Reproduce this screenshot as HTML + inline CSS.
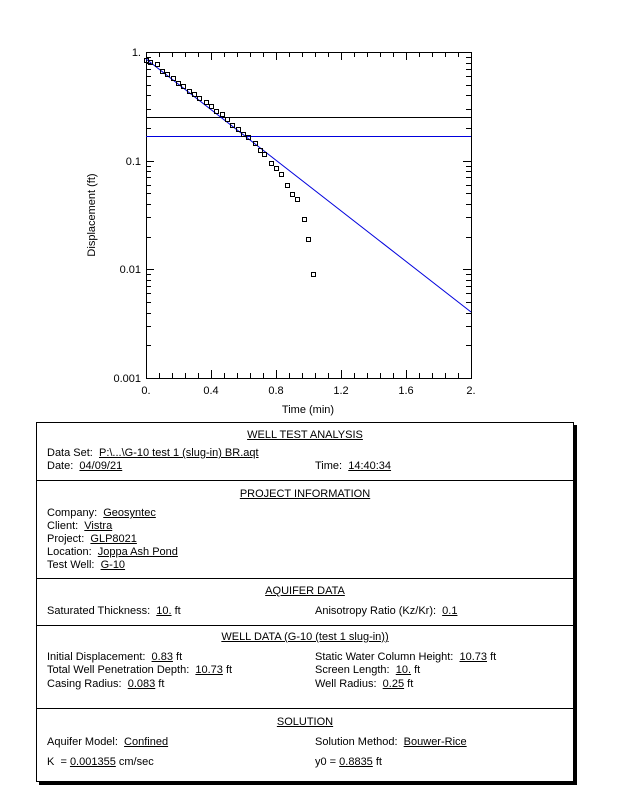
<!DOCTYPE html>
<html><head><meta charset="utf-8"><style>
body{margin:0;background:#fff;width:618px;height:800px;position:relative;overflow:hidden;font-family:"Liberation Sans",Arial,sans-serif;}
.t{position:absolute;font-size:11px;line-height:13px;white-space:nowrap;color:#000;}
.c{left:36px;width:538px;text-align:center;}
u{text-decoration:underline;}
</style></head><body>
<svg width="618" height="420" style="position:absolute;left:0;top:0" font-family="Liberation Sans, Arial, sans-serif" font-size="11">
<g id="ticks" stroke="#000" stroke-width="1" shape-rendering="crispEdges"></g>
<rect x="146.5" y="52.5" width="325" height="326" fill="none" stroke="#000"/>
<line x1="146" y1="117.5" x2="471" y2="117.5" stroke="#000"/>
<line x1="146" y1="136.5" x2="471" y2="136.5" stroke="#0000dd"/>
<line x1="146" y1="59" x2="471" y2="312" stroke="#0000dd"/>
<g id="pts" fill="none" stroke="#000" stroke-width="1"></g>
<g text-anchor="end">
<text x="141" y="56">1.</text><text x="141" y="165">0.1</text><text x="141" y="273">0.01</text><text x="141" y="382">0.001</text>
</g>
<g text-anchor="middle">
<text x="146" y="394">0.</text><text x="211" y="394">0.4</text><text x="276" y="394">0.8</text><text x="341" y="394">1.2</text><text x="406" y="394">1.6</text><text x="471" y="394">2.</text>
<text x="308" y="413">Time (min)</text>
<text transform="translate(95,215) rotate(-90)">Displacement (ft)</text>
</g>
</svg>
<div style="position:absolute;left:39px;top:425px;width:538px;height:360px;background:#000"></div>
<div style="position:absolute;left:36px;top:422px;width:536px;height:358px;border:1px solid #000;background:#fff"></div>
<div style="position:absolute;left:36px;top:480px;width:538px;border-top:1px solid #000"></div>
<div style="position:absolute;left:36px;top:578px;width:538px;border-top:1px solid #000"></div>
<div style="position:absolute;left:36px;top:625px;width:538px;border-top:1px solid #000"></div>
<div style="position:absolute;left:36px;top:708px;width:538px;border-top:1px solid #000"></div>

<div class="t c" style="top:429px"><u>WELL TEST ANALYSIS</u></div>
<div class="t" style="left:47px;top:447px">Data Set:&nbsp; <u>P:\...\G-10 test 1 (slug-in) BR.aqt</u></div>
<div class="t" style="left:47px;top:460px">Date:&nbsp; <u>04/09/21</u></div>
<div class="t" style="left:315px;top:460px">Time:&nbsp; <u>14:40:34</u></div>

<div class="t c" style="top:488px"><u>PROJECT INFORMATION</u></div>
<div class="t" style="left:47px;top:507px">Company:&nbsp; <u>Geosyntec</u></div>
<div class="t" style="left:47px;top:520px">Client:&nbsp; <u>Vistra</u></div>
<div class="t" style="left:47px;top:533px">Project:&nbsp; <u>GLP8021</u></div>
<div class="t" style="left:47px;top:546px">Location:&nbsp; <u>Joppa Ash Pond</u></div>
<div class="t" style="left:47px;top:559px">Test Well:&nbsp; <u>G-10</u></div>

<div class="t c" style="top:585px"><u>AQUIFER DATA</u></div>
<div class="t" style="left:47px;top:605px">Saturated Thickness:&nbsp; <u>10.</u> ft</div>
<div class="t" style="left:315px;top:605px">Anisotropy Ratio (Kz/Kr):&nbsp; <u>0.1</u></div>

<div class="t c" style="top:631px"><u>WELL DATA (G-10 (test 1 slug-in))</u></div>
<div class="t" style="left:47px;top:651px">Initial Displacement:&nbsp; <u>0.83</u> ft</div>
<div class="t" style="left:315px;top:651px">Static Water Column Height:&nbsp; <u>10.73</u> ft</div>
<div class="t" style="left:47px;top:664px">Total Well Penetration Depth:&nbsp; <u>10.73</u> ft</div>
<div class="t" style="left:315px;top:664px">Screen Length:&nbsp; <u>10.</u> ft</div>
<div class="t" style="left:47px;top:678px">Casing Radius:&nbsp; <u>0.083</u> ft</div>
<div class="t" style="left:315px;top:678px">Well Radius:&nbsp; <u>0.25</u> ft</div>

<div class="t c" style="top:716px"><u>SOLUTION</u></div>
<div class="t" style="left:47px;top:736px">Aquifer Model:&nbsp; <u>Confined</u></div>
<div class="t" style="left:315px;top:736px">Solution Method:&nbsp; <u>Bouwer-Rice</u></div>
<div class="t" style="left:47px;top:756px">K&nbsp; = <u>0.001355</u> cm/sec</div>
<div class="t" style="left:315px;top:756px">y0 = <u>0.8835</u> ft</div>

<script>
var ns="http://www.w3.org/2000/svg";
var tg=document.getElementById("ticks");
function L(x1,y1,x2,y2){var l=document.createElementNS(ns,"line");l.setAttribute("x1",x1);l.setAttribute("y1",y1);l.setAttribute("x2",x2);l.setAttribute("y2",y2);tg.appendChild(l);}
for(var i=0;i<=25;i++){var x=Math.round(146+i*13)+0.5;var len=(i%5==0)?8:5;L(x,52,x,52+len);L(x,378,x,378-len);}
for(var d=0;d<3;d++){for(var k=1;k<=10;k++){var y=Math.round(378-(d+Math.log10(k))*326/3)+0.5;var len=(k==1||k==10)?8:5;L(146,y,146+len,y);L(471,y,471-len,y);}}
var p=[[18,45],[30,50],[50,57],[65,77],[80,87],[98,99],[114,113],[128,123],[147,137],[162,147],[177,158],[197,171],[212,183],[227,197],[246,207],[260,221],[275,239],[294,251],[309,267],[323,276],[344,294],[359,314],[372,326],[393,353],[407,368],[422,386],[440,419],[455,446],[470,461],[491,521],[503,581],[518,686]];
var pg=document.getElementById("pts");
p.forEach(function(q){var r=document.createElementNS(ns,"rect");var x=Math.round(q[0]/3+140),y=Math.round(q[1]/3+45);r.setAttribute("x",x-2+0.5);r.setAttribute("y",y-2+0.5);r.setAttribute("width",4);r.setAttribute("height",4);pg.appendChild(r);});
</script>
</body></html>
